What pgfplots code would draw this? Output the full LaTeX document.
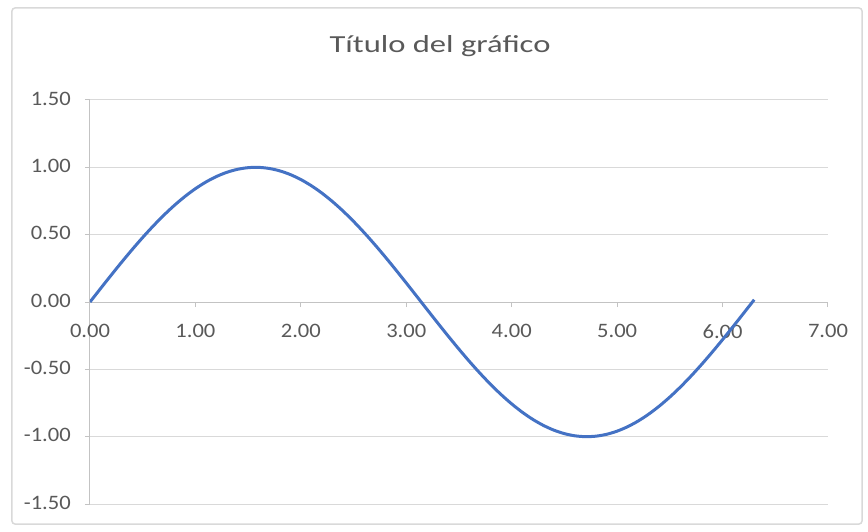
\documentclass[border=0pt]{standalone}
\usepackage{pgfplots}
\pgfplotsset{compat=1.18}
\usepackage{fontspec}
\setmainfont{Carlito}
\newfontfamily\titlefont[FakeStretch=1.33]{Carlito}
\newfontfamily\tickfont[FakeStretch=1.1]{Carlito}
\definecolor{txtgray}{RGB}{89,89,89}
\definecolor{gridgray}{RGB}{217,217,217}
\definecolor{axgray}{RGB}{195,195,195}
\definecolor{excelblue}{RGB}{68,114,196}
\begin{document}
\begin{tikzpicture}
\begin{axis}[
  scale only axis,
  width=738pt, height=404pt,
  xmin=0, xmax=7, ymin=-1.5, ymax=1.5,
  xtick={0,1,...,7}, ytick={-1.5,-1,...,1.5},
  axis x line=middle, axis y line=left,
  axis line style={-, draw=axgray, line width=1pt},
  hide obscured x ticks=false, hide obscured y ticks=false,
  ymajorgrids, grid style={gridgray, line width=1pt},
  major tick length=5pt,
  tick align=outside,
  tick style={axgray, line width=1pt},
  tick label style={font=\tickfont\fontsize{20.5}{24}\selectfont, text=txtgray},
  yticklabel style={inner sep=0pt, xshift=-14pt, yshift=1.5pt},
  xticklabel style={inner sep=0pt, yshift=-17pt},
  /pgf/number format/assume math mode=true,
  /pgf/number format/.cd, fixed, fixed zerofill, precision=2,
]
\addplot[excelblue, line width=3pt, smooth, line join=round] coordinates {
(0.0,0) (0.1,0.0998) (0.2,0.1987) (0.3,0.2955) (0.4,0.3894) (0.5,0.4794)
(0.6,0.5646) (0.7,0.6442) (0.8,0.7174) (0.9,0.7833) (1.0,0.8415) (1.1,0.8912)
(1.2,0.9320) (1.3,0.9636) (1.4,0.9854) (1.5,0.9975) (1.6,0.9996) (1.7,0.9917)
(1.8,0.9738) (1.9,0.9463) (2.0,0.9093) (2.1,0.8632) (2.2,0.8085) (2.3,0.7457)
(2.4,0.6755) (2.5,0.5985) (2.6,0.5155) (2.7,0.4274) (2.8,0.3350) (2.9,0.2392)
(3.0,0.1411) (3.1,0.0416) (3.2,-0.0584) (3.3,-0.1577) (3.4,-0.2555) (3.5,-0.3508)
(3.6,-0.4425) (3.7,-0.5298) (3.8,-0.6119) (3.9,-0.6878) (4.0,-0.7568) (4.1,-0.8183)
(4.2,-0.8716) (4.3,-0.9162) (4.4,-0.9516) (4.5,-0.9775) (4.6,-0.9937) (4.7,-0.9999)
(4.8,-0.9962) (4.9,-0.9825) (5.0,-0.9589) (5.1,-0.9258) (5.2,-0.8835) (5.3,-0.8323)
(5.4,-0.7728) (5.5,-0.7055) (5.6,-0.6313) (5.7,-0.5507) (5.8,-0.4646) (5.9,-0.3739)
(6.0,-0.2794) (6.1,-0.1822) (6.2,-0.0831) (6.3,0.0168)
};
\end{axis}
\node[anchor=base, text=txtgray, font=\titlefont\fontsize{24.5}{28}\selectfont] at (350pt,451pt) {Título del gráfico};
\draw[gridgray, line width=1.5pt, rounded corners=3pt] (-78pt,-20pt) rectangle (772pt,496pt);
\pgfresetboundingbox
\useasboundingbox (-90pt,-27pt) rectangle (778pt,504pt);
\end{tikzpicture}
\end{document}
